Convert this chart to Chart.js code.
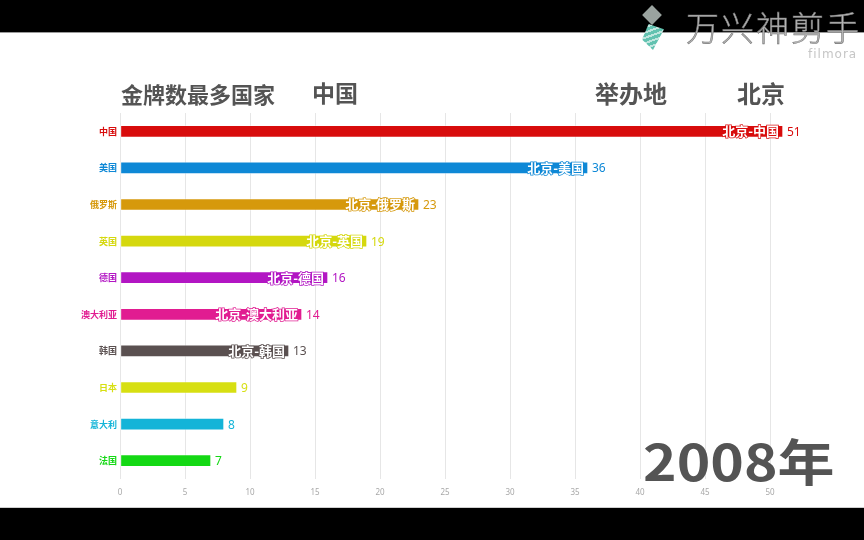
<!DOCTYPE html>
<html>
<head>
<meta charset="utf-8">
<script src="https://cdn.jsdelivr.net/npm/chart.js@4/dist/chart.umd.min.js"></script>
<style>
  body { margin: 0; width: 864px; height: 540px; background: #000; overflow: hidden; position: relative;
         font-family: "Noto Sans CJK SC", "Noto Sans", sans-serif; }
  #paper { position: absolute; left: 0; top: 32px; width: 864px; height: 474px; background: #fff;
           border-top: 1px solid #9a9a9a; border-bottom: 1px solid #cfcfcf; }
  #chart { position: absolute; left: 0; top: 0; }
  .txt { position: absolute; font-weight: bold; color: #545454; white-space: nowrap; line-height: 1; }
  #logo-top { position: absolute; left: 645px; top: 8px; width: 14px; height: 14px; background: #9aa39f;
              transform: rotate(45deg); }
  #logo-bot { position: absolute; left: 642px; top: 24px; width: 22px; height: 26px;
              background: repeating-linear-gradient(160deg, #62c2b0 0 3px, #bfe6de 3px 5px);
              clip-path: polygon(30% 0, 100% 20%, 50% 100%, 0 60%); }
  #wm { position: absolute; left: 686px; top: 1px; font-size: 33px; color: #b4b4b4; font-weight: 300;
        letter-spacing: 2px; white-space: nowrap; -webkit-text-stroke: 0.6px #777;
        transform: scaleY(1.05); transform-origin: top left; }
  #wm2 { position: absolute; left: 808px; top: 47px; font-size: 12px; color: #c6c6c6; font-family: "DejaVu Sans";
         letter-spacing: 1px; }
  #yr { transform: scaleY(0.88); transform-origin: top left; }
</style>
</head>
<body>
<div id="paper"></div>
<canvas id="chart" width="864" height="540"></canvas>
<div id="logo-top"></div>
<div id="logo-bot"></div>
<div id="wm">万兴神剪手</div>
<div id="wm2">filmora</div>
<div class="txt" id="t1" style="left:121px; top:82px; font-size:22px;"></div>
<div class="txt" id="t2" style="left:312px; top:81px; font-size:23px;"></div>
<div class="txt" style="left:595px; top:81px; font-size:24px;">举办地</div>
<div class="txt" id="t3" style="left:737px; top:81px; font-size:24px;"></div>
<div class="txt" id="yr" style="left:643px; top:434px; font-size:57px;"></div>
<script>
// Chart data
const countries = ['中国', '美国', '俄罗斯', '英国', '德国', '澳大利亚', '韩国', '日本', '意大利', '法国'];
const golds = [51, 36, 23, 19, 16, 14, 13, 9, 8, 7];
const barTags = ['北京-中国', '北京-美国', '北京-俄罗斯', '北京-英国', '北京-德国', '北京-澳大利亚', '北京-韩国', '', '', ''];
const barColors = ['#d80c0c', '#0e88d6', '#d6990c', '#d5d80e', '#b216c3', '#e11c91', '#5a5050', '#d7df12', '#13b4d8', '#14d814'];
const xTicks = [0, 5, 10, 15, 20, 25, 30, 35, 40, 45, 50];
const host = '北京';
const year = '2008年';
const leader = '中国';

document.getElementById('t1').textContent = '金牌数最多国家';
document.getElementById('t2').textContent = leader;
document.getElementById('t3').textContent = host;
document.getElementById('yr').textContent = year;

// Draw the tag inside each bar and the value next to it
const barText = {
    id: 'barText',
    afterDatasetsDraw(chart) {
        const ctx = chart.ctx;
        const meta = chart.getDatasetMeta(0);
        ctx.save();
        ctx.textBaseline = 'middle';
        meta.data.forEach((bar, i) => {
            // value label
            ctx.font = '12px "Noto Sans", sans-serif';
            ctx.fillStyle = barColors[i];
            ctx.textAlign = 'left';
            ctx.fillText(golds[i], bar.x + 4, bar.y + 1);
            // tag inside bar
            if (barTags[i]) {
                ctx.font = 'bold 13px "Noto Sans CJK SC", sans-serif';
                ctx.textAlign = 'right';
                ctx.lineWidth = 1.5;
                ctx.strokeStyle = barColors[i];
                ctx.strokeText(barTags[i], bar.x - 4, bar.y);
                ctx.fillStyle = '#ffffff';
                ctx.fillText(barTags[i], bar.x - 4, bar.y);
            }
        });
        ctx.restore();
    }
};

new Chart(document.getElementById('chart'), {
    type: 'bar',
    data: {
        labels: countries,
        datasets: [{
            data: golds,
            backgroundColor: barColors,
            borderColor: 'rgba(255,255,255,0.35)',
            borderWidth: 1,
            borderSkipped: false,
            barThickness: 12
        }]
    },
    options: {
        indexAxis: 'y',
        responsive: false,
        animation: false,
        devicePixelRatio: 1,
        layout: { padding: { left: 0, right: 55, top: 113, bottom: 0 } },
        plugins: { legend: { display: false }, tooltip: { enabled: false } },
        scales: {
            x: {
                min: 0,
                max: 53,
                afterBuildTicks: scale => {
                    scale.ticks = xTicks.map(v => ({ value: v }));
                },
                afterFit: scale => { scale.height = 61; },
                grid: { color: '#e6e6e6', drawTicks: false },
                border: { display: false },
                ticks: {
                    color: '#a8a8a8',
                    padding: 9,
                    font: { size: 8, family: '"Noto Sans", sans-serif' }
                }
            },
            y: {
                afterFit: scale => { scale.width = 120; },
                grid: { display: false, drawTicks: false },
                border: { display: false },
                ticks: {
                    padding: 3,
                    color: c => barColors[c.index],
                    font: { size: 9, weight: 'bold', family: '"Noto Sans CJK SC", sans-serif' }
                }
            }
        }
    },
    plugins: [barText]
});
</script>
</body>
</html>
